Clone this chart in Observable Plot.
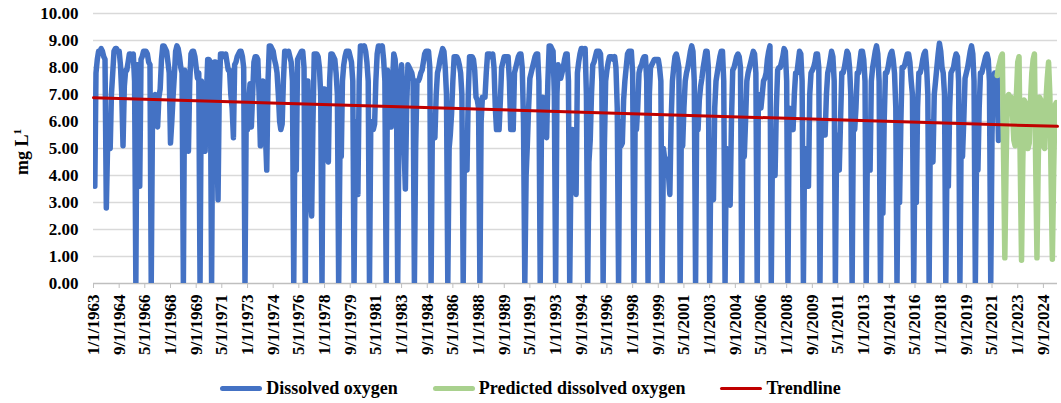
<!DOCTYPE html>
<html>
<head>
<meta charset="utf-8">
<script src="https://cdn.jsdelivr.net/npm/d3@7"></script>
<script src="https://cdn.jsdelivr.net/npm/@observablehq/plot@0.6"></script>
<style>
  html, body { margin: 0; padding: 0; background: #fff; }
  body { width: 1061px; font-family: "Liberation Serif", "Times New Roman", serif; }
  #legend { display: flex; justify-content: center; align-items: center; height: 40px;
            font-weight: bold; font-size: 18px; color: #000; gap: 35px; }
  #legend .item { display: flex; align-items: center; }
  #legend .sw { display: inline-block; width: 42px; margin-right: 4px; border-radius: 3px; }
</style>
</head>
<body>
<div id="chart"></div>
<div id="legend"></div>
<script>
// ---- data ----
const observedStart = "1963-01-01";
const dissolvedOxygen = [
  6.2, 3.6, 7.8, 8.3, 8.6, 8.6, 8.7, 8.6, 8.4, 8.3, 2.8, 5.1,   // 1963
  5.1, 5.0, 7.0, 7.8, 8.6, 8.7, 8.7, 8.6, 8.6, 8.1, 7.0, 5.1,   // 1964
  7.3, 7.9, 7.9, 8.2, 8.5, 8.5, 8.4, 8.5, 7.5, 0, 8.1, 8.1,     // 1965
  3.6, 8.3, 8.4, 8.6, 8.6, 8.6, 8.5, 8.2, 8.1, 0, 6.5, 6.9,     // 1966
  7.0, 6.2, 5.8, 6.9, 7.2, 8.3, 8.8, 8.8, 8.7, 8.6, 8.2, 7.8,   // 1967
  5.2, 6.0, 6.9, 7.7, 8.6, 8.8, 8.7, 8.4, 8.0, 7.8, 0, 7.9,     // 1968
  7.0, 5.5, 4.9, 7.5, 8.5, 8.6, 8.6, 8.4, 8.0, 7.6, 7.8, 0,     // 1969
  7.5, 6.5, 5.0, 4.9, 7.0, 8.3, 8.3, 8.2, 0, 7.6, 8.2, 8.2,     // 1970
  5.5, 3.1, 7.0, 8.5, 8.5, 8.5, 8.4, 8.5, 8.2, 7.9, 7.9, 7.0,   // 1971
  6.5, 5.4, 8.1, 8.2, 8.4, 8.5, 8.6, 8.6, 8.4, 8.0, 0, 6.5,     // 1972
  5.7, 6.8, 7.4, 5.8, 7.0, 8.2, 8.4, 8.4, 8.3, 7.0, 5.1, 6.5,   // 1973
  7.5, 6.0, 5.5, 4.2, 7.5, 8.8, 8.8, 8.7, 8.6, 8.3, 8.1, 7.8,   // 1974
  7.0, 6.0, 5.7, 5.9, 7.5, 8.6, 8.6, 8.5, 8.6, 8.4, 8.2, 7.5,   // 1975
  0, 6.5, 4.2, 8.3, 8.4, 8.5, 8.6, 8.6, 8.0, 0, 7.5, 7.5,       // 1976
  5.0, 3.0, 2.5, 6.0, 8.5, 8.5, 8.5, 8.4, 8.0, 7.0, 0, 7.2,     // 1977
  7.2, 6.0, 4.7, 4.5, 7.5, 8.5, 8.5, 8.4, 8.3, 7.8, 7.0, 0,     // 1978
  5.0, 4.7, 7.5, 8.1, 8.4, 8.6, 8.6, 8.6, 8.4, 8.2, 7.5, 0,     // 1979
  6.0, 4.5, 3.3, 7.5, 8.8, 8.8, 8.7, 8.8, 8.6, 8.2, 7.5, 0,     // 1980
  6.0, 5.7, 5.7, 5.9, 7.5, 8.5, 8.8, 8.8, 8.7, 8.8, 8.3, 7.5,   // 1981
  0, 7.9, 7.0, 5.8, 5.8, 7.5, 8.5, 8.3, 7.5, 0, 6.0, 7.5,       // 1982
  8.1, 7.0, 5.0, 3.5, 6.5, 8.1, 8.0, 7.9, 7.8, 7.5, 0, 5.0,     // 1983
  7.5, 7.5, 7.6, 7.8, 7.9, 8.2, 8.5, 8.6, 8.6, 8.6, 8.0, 0,     // 1984
  6.0, 5.6, 5.4, 7.0, 7.8, 8.0, 8.3, 8.5, 8.7, 8.6, 8.0, 7.0,   // 1985
  0, 5.0, 5.5, 6.3, 7.5, 8.4, 8.4, 8.4, 8.3, 8.1, 7.8, 7.0,     // 1986
  0, 5.5, 4.5, 4.2, 7.0, 8.4, 8.4, 8.4, 8.3, 7.9, 6.9, 6.8,     // 1987
  6.5, 0, 6.0, 6.9, 6.9, 6.9, 7.8, 8.5, 8.5, 8.5, 8.4, 8.5,     // 1988
  8.0, 6.5, 5.7, 5.7, 5.7, 6.8, 8.0, 8.2, 8.4, 8.4, 8.4, 8.4,   // 1989
  7.5, 5.7, 5.7, 5.7, 7.8, 8.0, 8.2, 8.4, 8.5, 8.5, 8.0, 6.0,   // 1990
  0, 4.0, 5.1, 6.5, 7.6, 7.8, 8.0, 8.2, 8.4, 8.5, 8.5, 7.5,     // 1991
  0, 6.0, 6.9, 6.5, 5.8, 5.4, 7.5, 8.8, 8.8, 8.7, 8.6, 7.0,     // 1992
  0, 7.0, 8.1, 7.9, 7.6, 7.8, 8.0, 8.3, 8.5, 8.5, 7.5, 0,       // 1993
  4.5, 5.7, 5.5, 4.0, 3.3, 7.8, 8.2, 8.5, 8.7, 8.7, 8.6, 8.7,   // 1994
  7.0, 0, 4.5, 5.3, 7.0, 8.1, 8.2, 8.4, 8.6, 8.6, 8.6, 8.5,     // 1995
  7.5, 0, 5.0, 7.5, 7.9, 8.2, 8.4, 8.4, 8.4, 8.3, 8.4, 8.0,     // 1996
  6.5, 0, 6.0, 5.1, 5.2, 6.8, 7.5, 8.0, 8.5, 8.6, 8.6, 8.6,     // 1997
  7.8, 0, 6.0, 5.7, 6.5, 7.8, 8.0, 8.1, 8.3, 8.4, 8.4, 7.5,     // 1998
  0, 7.0, 8.0, 8.1, 8.2, 8.3, 8.3, 8.3, 8.3, 8.0, 7.5, 0,       // 1999
  5.0, 4.6, 4.6, 4.6, 4.0, 3.3, 6.0, 7.5, 8.0, 8.4, 8.5, 8.3,   // 2000
  8.0, 0, 6.0, 5.1, 6.5, 7.5, 7.8, 8.0, 8.3, 8.6, 8.8, 8.6,     // 2001
  7.5, 0, 6.5, 5.7, 6.8, 7.3, 7.6, 8.0, 8.3, 8.6, 8.6, 8.0,     // 2002
  0, 5.0, 3.5, 3.1, 6.5, 7.5, 7.8, 8.1, 8.4, 8.6, 8.6, 7.5,     // 2003
  0, 5.0, 4.0, 3.2, 2.9, 6.0, 7.9, 8.0, 8.2, 8.4, 8.5, 8.4,     // 2004
  8.0, 0, 6.0, 4.7, 6.0, 7.5, 7.8, 8.0, 8.2, 8.4, 8.6, 8.5,     // 2005
  7.8, 0, 7.0, 6.8, 6.5, 7.0, 7.5, 7.6, 7.8, 8.3, 8.6, 8.8,     // 2006
  0, 5.5, 4.5, 4.0, 6.5, 7.9, 8.0, 8.0, 8.2, 8.4, 8.7, 8.6,     // 2007
  7.5, 0, 6.5, 6.0, 5.8, 5.7, 7.0, 7.8, 7.8, 8.2, 8.6, 8.5,     // 2008
  7.5, 0, 5.0, 4.2, 3.6, 3.6, 7.0, 7.8, 7.9, 8.0, 8.2, 8.5,     // 2009
  8.5, 8.0, 0, 6.0, 5.8, 5.5, 5.5, 7.0, 7.8, 8.0, 8.3, 8.6,     // 2010
  8.4, 7.5, 0, 5.5, 4.5, 4.2, 6.0, 7.8, 7.8, 8.0, 8.3, 8.6,     // 2011
  8.5, 8.0, 7.0, 0, 6.0, 5.7, 6.5, 7.8, 7.8, 8.2, 8.6, 8.6,     // 2012
  8.3, 7.5, 0, 5.5, 4.2, 4.2, 7.5, 8.0, 8.3, 8.6, 8.8, 8.5,     // 2013
  7.5, 0, 4.5, 2.6, 6.0, 7.8, 7.8, 8.0, 8.3, 8.5, 8.6, 8.3,     // 2014
  7.8, 6.5, 0, 5.0, 3.0, 6.0, 8.0, 8.0, 8.1, 8.3, 8.5, 8.5,     // 2015
  8.2, 7.5, 7.0, 0, 5.0, 3.0, 6.5, 7.8, 7.8, 8.0, 8.3, 8.5,     // 2016
  8.6, 8.0, 7.0, 0, 6.0, 4.8, 4.5, 7.0, 7.5, 8.0, 8.5, 8.9,     // 2017
  8.6, 8.0, 7.8, 7.0, 0, 5.0, 3.6, 6.5, 7.8, 7.9, 8.0, 8.3,     // 2018
  8.5, 8.4, 7.5, 0, 5.5, 4.7, 6.0, 7.6, 7.8, 8.0, 8.3, 8.6,     // 2019
  8.8, 8.5, 7.5, 0, 5.0, 4.2, 6.5, 7.8, 7.8, 8.0, 8.2, 8.4,     // 2020
  8.5, 8.3, 7.5, 0, 5.5, 7.5, 7.8, 7.8, 7.6, 5.3              // 2021 (Jan–Oct)
];

const predictedStart = "2021-09-01";
const predictedDO = [
  7.7, 8.0, 8.2, 8.4, 8.5, 4.5, 0.95, 4.5, 6.9, 7.0, 6.8, 6.9,
  6.2, 5.3, 5.1, 7.0, 8.2, 8.4, 4.5, 0.86, 4.5, 6.8, 6.7, 6.0,
  5.0, 5.2, 6.8, 7.8, 8.3, 8.5, 4.5, 0.95, 4.5, 6.9, 6.8, 6.0,
  5.1, 5.0, 6.8, 7.6, 8.2, 7.0, 4.0, 0.9, 4.0, 6.6, 6.7, 6.6
];

const trendDates = ["1963-01-01", "2025-08-01"];
const trendValues = [6.88, 5.82];

const xDomain = ["1963-01-01", "2025-08-01"];
const xTickLabels = [
  "1/1/1963","9/1/1964","5/1/1966","1/1/1968","9/1/1969","5/1/1971","1/1/1973","9/1/1974",
  "5/1/1976","1/1/1978","9/1/1979","5/1/1981","1/1/1983","9/1/1984","5/1/1986","1/1/1988",
  "9/1/1989","5/1/1991","1/1/1993","9/1/1994","5/1/1996","1/1/1998","9/1/1999","5/1/2001",
  "1/1/2003","9/1/2004","5/1/2006","1/1/2008","9/1/2009","5/1/2011","1/1/2013","9/1/2014",
  "5/1/2016","1/1/2018","9/1/2019","5/1/2021","1/1/2023","9/1/2024"
];
const yTicks = [0, 1, 2, 3, 4, 5, 6, 7, 8, 9, 10];

const seriesNames = ["Dissolved oxygen", "Predicted dissolved oxygen", "Trendline"];
const seriesColors = ["#4472C4", "#A9D18E", "#C00000"];
const yTitle = "mg L";
const yTitleSup = "1";

// ---- build tables ----
const parseISO = d3.utcParse("%Y-%m-%d");
const parseMDY = d3.utcParse("%m/%d/%Y");
const obsStart = parseISO(observedStart);
const observed = dissolvedOxygen.map((v, i) => ({date: d3.utcMonth.offset(obsStart, i), value: v}));
const predStart = parseISO(predictedStart);
const predicted = predictedDO.map((v, i) => ({date: d3.utcMonth.offset(predStart, i), value: v}));
const trend = trendDates.map((d, i) => ({date: parseISO(d), value: trendValues[i]}));
const xTicks = xTickLabels.map(parseMDY);
const labelByTime = new Map(xTicks.map((d, i) => [+d, xTickLabels[i]]));

const chart = Plot.plot({
  width: 1061,
  height: 368,
  marginTop: 13,
  marginBottom: 85,
  marginLeft: 93,
  marginRight: 4,
  style: {
    fontFamily: '"Liberation Serif", "Times New Roman", serif',
    fontSize: "17px",
    fontWeight: "bold",
    color: "#000",
    background: "#fff",
    overflow: "visible"
  },
  x: {type: "utc", domain: xDomain.map(parseISO)},
  y: {domain: [0, 10]},
  marks: [
    Plot.gridY(yTicks.filter(d => d > 0), {stroke: "#d9d9d9", strokeOpacity: 1, strokeWidth: 1.3}),
    Plot.ruleY([0], {stroke: "#bfbfbf", strokeWidth: 1.3}),
    Plot.lineY(observed, {x: "date", y: "value", stroke: seriesColors[0], strokeWidth: 5.5,
      strokeLinejoin: "round", clip: true}),
    Plot.lineY(predicted, {x: "date", y: "value", stroke: seriesColors[1], strokeWidth: 5.5,
      strokeLinejoin: "round", clip: true}),
    Plot.lineY(trend, {x: "date", y: "value", stroke: seriesColors[2], strokeWidth: 3}),
    Plot.axisY({ticks: yTicks, tickFormat: d3.format(".2f"), tickSize: 0, tickPadding: 15, label: null}),
    Plot.axisX({ticks: xTicks, tickFormat: d => labelByTime.get(+d), tickRotate: -90,
      tickSize: 5, tickPadding: 6, stroke: "#bfbfbf", fill: "#000", label: null})
  ]
});
document.getElementById("chart").appendChild(chart);

// y-axis title with superscript
const t = d3.select(chart).append("text")
  .attr("transform", "translate(28,152) rotate(-90)")
  .attr("text-anchor", "middle")
  .attr("fill", "#000")
  .style("font-size", "18px")
  .style("font-weight", "bold");
t.append("tspan").text(yTitle);
t.append("tspan").attr("dy", -7).style("font-size", "11px").text(yTitleSup);

// legend
const legend = d3.select("#legend");
seriesNames.forEach((name, i) => {
  const item = legend.append("span").attr("class", "item");
  item.append("span").attr("class", "sw")
    .style("background", seriesColors[i])
    .style("height", i === 2 ? "3px" : "5px");
  item.append("span").text(name);
});
</script>
</body>
</html>
